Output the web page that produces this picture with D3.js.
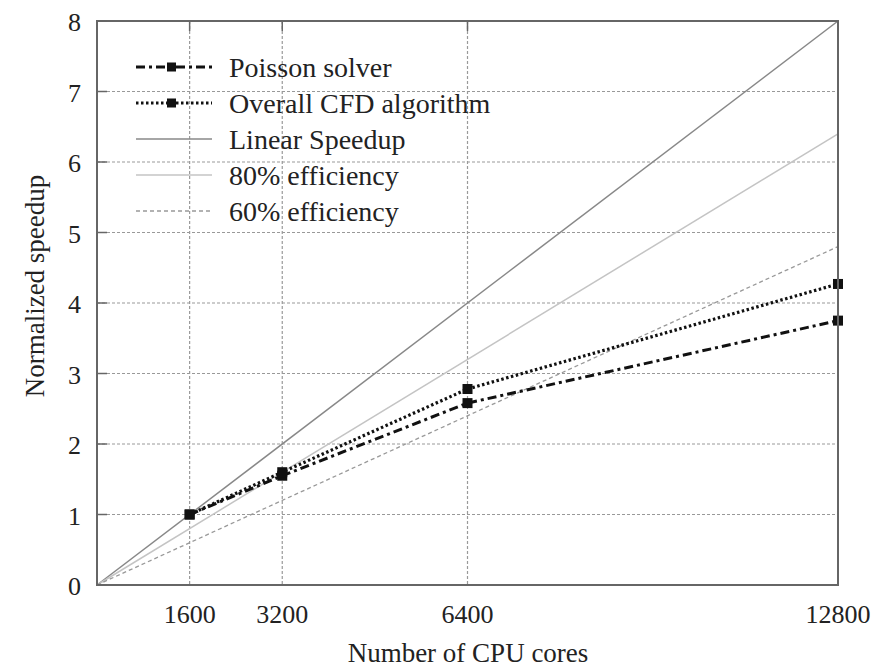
<!DOCTYPE html>
<html>
<head>
<meta charset="utf-8">
<script src="https://cdnjs.cloudflare.com/ajax/libs/d3/7.8.5/d3.min.js"></script>
<style>
  body { margin: 0; background: #fff; }
  text { font-family: "Liberation Serif", "Times New Roman", serif; fill: #222; }
</style>
</head>
<body>
<div id="chart"></div>
<script>
// data
var cores = [1600, 3200, 6400, 12800];
var poisson = [1, 1.55, 2.58, 3.75];
var overall = [1, 1.6, 2.78, 4.27];
var refEfficiency = [1, 0.8, 0.6];        // linear, 80 %, 60 %
var xTicks = [1600, 3200, 6400, 12800];
var yTicks = [0, 1, 2, 3, 4, 5, 6, 7, 8];
var legendNames = ["Poisson solver", "Overall CFD algorithm", "Linear Speedup", "80% efficiency", "60% efficiency"];

var width = 889, height = 669;
var pLeft = 97, pRight = 838, pTop = 21, pBottom = 585;

var svg = d3.select("#chart").append("svg").attr("width", width).attr("height", height);

var x = d3.scaleLinear().domain([0, 12800]).range([pLeft, pRight]);
var y = d3.scaleLinear().domain([0, 8]).range([pBottom, pTop]);

// grid
svg.selectAll(".gy").data(yTicks.slice(1, -1)).enter().append("line")
  .attr("x1", pLeft).attr("x2", pRight)
  .attr("y1", d => y(d)).attr("y2", d => y(d))
  .style("stroke", "#999").style("stroke-width", 1.2).style("stroke-dasharray", "3,2");
svg.selectAll(".gx").data(xTicks.slice(0, -1)).enter().append("line")
  .attr("x1", d => x(d)).attr("x2", d => x(d))
  .attr("y1", pTop).attr("y2", pBottom)
  .style("stroke", "#999").style("stroke-width", 1.2).style("stroke-dasharray", "3,2");

// reference lines
var refStyles = [
  {stroke: "#888", width: 1.5, dash: null},
  {stroke: "#c4c4c4", width: 1.5, dash: null},
  {stroke: "#999", width: 1.3, dash: "4,3"}
];
refEfficiency.forEach(function(e, i) {
  svg.append("line")
    .attr("x1", x(0)).attr("y1", y(0))
    .attr("x2", x(12800)).attr("y2", y(12800 / 1600 * e))
    .style("stroke", refStyles[i].stroke)
    .style("stroke-width", refStyles[i].width)
    .style("stroke-dasharray", refStyles[i].dash);
});

// measured series
var line = d3.line().x(d => x(d[0])).y(d => y(d[1]));
var series = [
  {vals: poisson, dash: "9,4,3,4", width: 3},
  {vals: overall, dash: "2.5,2.5", width: 3.2}
];
series.forEach(function(s) {
  var pts = cores.map((c, i) => [c, s.vals[i]]);
  svg.append("path").datum(pts).attr("d", line)
    .style("fill", "none").style("stroke", "#111")
    .style("stroke-width", s.width).style("stroke-dasharray", s.dash);
  svg.selectAll(null).data(pts).enter().append("rect")
    .attr("x", d => x(d[0]) - 5).attr("y", d => y(d[1]) - 5)
    .attr("width", 10).attr("height", 10).style("fill", "#111");
});

// frame
svg.append("rect").attr("x", pLeft).attr("y", pTop)
  .attr("width", pRight - pLeft).attr("height", pBottom - pTop)
  .style("fill", "none").style("stroke", "#666").style("stroke-width", 2);

// inner ticks
svg.selectAll(".ty").data(yTicks).enter().append("line")
  .attr("x1", pLeft).attr("x2", pLeft + 10)
  .attr("y1", d => y(d)).attr("y2", d => y(d))
  .style("stroke", "#666").style("stroke-width", 1.5);
svg.selectAll(".tx").data(xTicks).enter().append("line")
  .attr("x1", d => x(d)).attr("x2", d => x(d))
  .attr("y1", pTop).attr("y2", pTop + 10)
  .style("stroke", "#666").style("stroke-width", 1.5);

// tick labels
svg.selectAll(".ly").data(yTicks).enter().append("text")
  .attr("x", 81).attr("y", d => y(d) + 10)
  .attr("text-anchor", "end").style("font-size", "26px")
  .text(d => d);
svg.selectAll(".lx").data(xTicks).enter().append("text")
  .attr("x", d => x(d)).attr("y", 623)
  .attr("text-anchor", "middle").style("font-size", "26px")
  .text(d => d);

// axis titles
svg.append("text").attr("x", 468).attr("y", 662)
  .attr("text-anchor", "middle").style("font-size", "27px")
  .text("Number of CPU cores");
svg.append("text")
  .attr("transform", "translate(44,286) rotate(-90)")
  .attr("text-anchor", "middle").style("font-size", "27px")
  .text("Normalized speedup");

// legend
var legY = [67, 103, 139, 175, 211];
var legStyles = [
  {stroke: "#111", width: 3, dash: "9,4,3,4", mark: true},
  {stroke: "#111", width: 3.2, dash: "2.5,2.5", mark: true},
  refStyles[0], refStyles[1], refStyles[2]
];
legendNames.forEach(function(name, i) {
  var st = legStyles[i];
  svg.append("line").attr("x1", 136).attr("x2", 212)
    .attr("y1", legY[i]).attr("y2", legY[i])
    .style("stroke", st.stroke).style("stroke-width", st.width)
    .style("stroke-dasharray", st.dash);
  if (st.mark) {
    svg.append("rect").attr("x", 167).attr("y", legY[i] - 4.5)
      .attr("width", 9).attr("height", 9).style("fill", "#111");
  }
  svg.append("text").attr("x", 229).attr("y", legY[i] + 10)
    .style("font-size", "28px").text(name);
});
</script>
</body>
</html>
